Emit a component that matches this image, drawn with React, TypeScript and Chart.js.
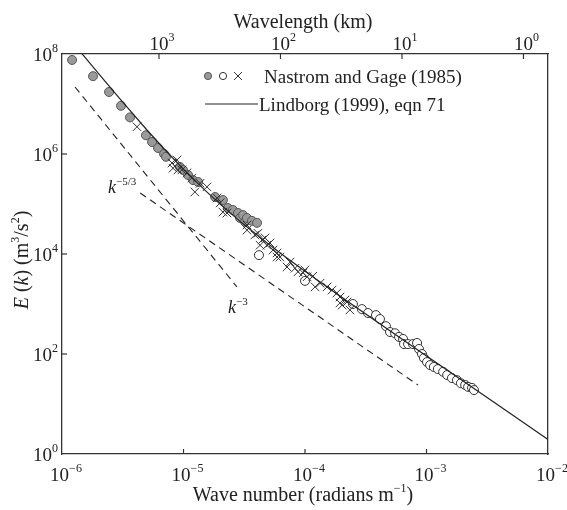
import { useEffect, useRef } from "react";
import { Chart, registerables } from "chart.js";

Chart.register(...registerables);

// ---------------- data ----------------
const lindborgK = [1.4e-6, 1.5e-6, 2e-6, 3e-6, 5e-6, 7e-6, 1e-5, 1.5e-5, 2e-5, 3e-5, 5e-5, 7e-5, 1e-4, 2e-4, 5e-4, 1e-3, 2e-3, 5e-3, 1e-2];
const lindborgE = [1.15e8, 9.35e7, 4.04e7, 1.26e7, 3.02e6, 1.23e6, 4.96e5, 1.89e5, 9.93e4, 4.25e4, 1.58e4, 8.53e3, 4.52e3, 1.37e3, 292, 91.3, 28.7, 6.22, 1.96];

const filledK = [1.21e-6, 1.8e-6, 2.44e-6, 3.06e-6, 3.63e-6, 4.91e-6, 5.51e-6, 6.17e-6, 6.92e-6, 7.18e-6, 9.35e-6, 9.9e-6, 1.09e-5, 1.2e-5, 1.32e-5, 1.82e-5, 2.11e-5, 2.32e-5, 2.55e-5, 2.81e-5, 2.92e-5, 3.09e-5, 3.21e-5, 3.33e-5, 3.66e-5, 4.03e-5];
const filledE = [7.6e7, 3.6e7, 1.74e7, 9.2e6, 5.4e6, 2.37e6, 1.74e6, 1.32e6, 1.0e6, 8.8e5, 5.5e5, 4.8e5, 3.8e5, 3.0e5, 2.75e5, 1.38e5, 1.2e5, 8.3e4, 7.6e4, 6.6e4, 5.25e4, 6.0e4, 4.4e4, 5.25e4, 4.6e4, 4.2e4];

const openK = [4.18e-5, 1.0e-4, 2.48e-4, 2.94e-4, 3.3e-4, 3.84e-4, 4.14e-4, 4.64e-4, 5.01e-4, 5.51e-4, 5.94e-4, 6.41e-4, 6.53e-4, 7.05e-4, 7.74e-4, 8.36e-4, 8.67e-4, 9.18e-4, 9.53e-4, 1.01e-3, 1.07e-3, 1.15e-3, 1.24e-3, 1.37e-3, 1.48e-3, 1.62e-3, 1.78e-3, 1.92e-3, 2.08e-3, 2.2e-3, 2.37e-3, 2.46e-3];
const openE = [9.5e3, 2.9e3, 1.0e3, 790, 660, 600, 500, 360, 275, 260, 220, 200, 158, 158, 158, 166, 126, 100, 83, 69, 60, 55, 50, 44, 38, 33, 30, 26, 24, 22, 21, 19];

const crossK = [4.14e-6, 8.04e-6, 8.2e-6, 8.85e-6, 9.0e-6, 9.7e-6, 1.07e-5, 1.17e-5, 1.24e-5, 1.37e-5, 1.56e-5, 1.89e-5, 2.0e-5, 2.11e-5, 2.28e-5, 3.33e-5, 3.33e-5, 3.87e-5, 4.1e-5, 4.27e-5, 4.43e-5, 4.69e-5, 4.86e-5, 5.15e-5, 5.46e-5, 5.89e-5, 5.89e-5, 6.22e-5, 7.11e-5, 7.54e-5, 8.28e-5, 8.75e-5, 9.64e-5, 1.0e-4, 1.04e-4, 1.16e-4, 1.21e-4, 1.33e-4, 1.52e-4, 1.67e-4, 1.83e-4, 1.94e-4, 1.94e-4, 2.02e-4, 2.13e-4, 2.22e-4, 2.34e-4];
const crossE = [3.5e6, 6.6e5, 5.2e5, 7.6e5, 4.8e5, 4.8e5, 4.2e5, 3.3e5, 1.74e5, 2.6e5, 2.2e5, 1.32e5, 1.05e5, 6.9e4, 6.6e4, 3.8e4, 3.0e4, 2.4e4, 2.6e4, 1.5e4, 1.9e4, 2.1e4, 1.5e4, 1.66e4, 1.2e4, 1.05e4, 8.7e3, 8.7e3, 5.5e3, 6.9e3, 5.2e3, 4.4e3, 4.2e3, 4.8e3, 3.5e3, 3.6e3, 2.2e3, 2.6e3, 2.2e3, 1.9e3, 1.66e3, 1.05e3, 1.38e3, 950, 1.2e3, 1.1e3, 760];

const slope53K = [4.4e-6, 8.5e-4];
const slope53E = [1.66e5, 24];
const slope3K = [1.28e-6, 2.75e-5];
const slope3E = [2.19e7, 2.2e3];

const waveNumberTicks = [1e-6, 1e-5, 1e-4, 1e-3, 1e-2];
const waveNumberExps = ["\u22126", "\u22125", "\u22124", "\u22123", "\u22122"];
const energyTicks = [1, 1e2, 1e4, 1e6, 1e8];
const energyExps = ["0", "2", "4", "6", "8"];
const wavelengthKmTicks = [1000, 100, 10, 1];
const wavelengthExps = ["3", "2", "1", "0"];

const legendLabels = ["Nastrom and Gage (1985)", "Lindborg (1999), eqn 71"];

// ---------------- styling ----------------
const FONT = '"Liberation Serif", "Times New Roman", serif';
const INK = "#222222";
const AXIS = "#333333";
const GRAY_FILL = "#9a9a9a";
const GRAY_EDGE = "#555555";

type Seg = { t: string; it?: boolean; sup?: boolean };

function fontFor(s: Seg, size: number) {
  const sz = s.sup ? Math.round(size * 0.62) : size;
  return `${s.it ? "italic " : ""}${sz}px ${FONT}`;
}

function drawRich(ctx: CanvasRenderingContext2D, segs: Seg[], x: number, y: number, size: number, align: "left" | "center" | "right" = "left") {
  const widths = segs.map((s) => {
    ctx.font = fontFor(s, size);
    return ctx.measureText(s.t).width;
  });
  const total = widths.reduce((a, b) => a + b, 0);
  let cx = align === "center" ? x - total / 2 : align === "right" ? x - total : x;
  ctx.textAlign = "left";
  ctx.textBaseline = "alphabetic";
  segs.forEach((s, i) => {
    ctx.font = fontFor(s, size);
    ctx.fillText(s.t, cx, s.sup ? y - size * 0.45 : y);
    cx += widths[i];
  });
}

const pts = (xs: number[], ys: number[]) => xs.map((x, i) => ({ x, y: ys[i] }));

const decorPlugin = {
  id: "decor",
  afterDraw(chart: any) {
    const ctx: CanvasRenderingContext2D = chart.ctx;
    const xs = chart.scales.x;
    const ys = chart.scales.y;
    const { left, right, top, bottom } = chart.chartArea;
    ctx.save();
    ctx.strokeStyle = AXIS;
    ctx.fillStyle = INK;
    ctx.lineWidth = 1.2;
    const TL = 5;

    // bottom ticks + labels
    waveNumberTicks.forEach((v, i) => {
      const px = xs.getPixelForValue(v);
      if (i > 0 && i < waveNumberTicks.length - 1) {
        ctx.beginPath();
        ctx.moveTo(px, bottom);
        ctx.lineTo(px, bottom - TL);
        ctx.stroke();
      }
      drawRich(ctx, [{ t: "10" }, { t: waveNumberExps[i], sup: true }], px + 4, bottom + 27, 19, "center");
    });

    // left ticks + labels
    energyTicks.forEach((v, i) => {
      const py = ys.getPixelForValue(v);
      if (i > 0 && i < energyTicks.length - 1) {
        ctx.beginPath();
        ctx.moveTo(left, py);
        ctx.lineTo(left + TL, py);
        ctx.stroke();
      }
      drawRich(ctx, [{ t: "10" }, { t: energyExps[i], sup: true }], left - 4, py + 7, 19, "right");
    });

    // top (wavelength) ticks + labels
    wavelengthKmTicks.forEach((lam, i) => {
      const px = xs.getPixelForValue((2 * Math.PI) / (lam * 1000));
      ctx.beginPath();
      ctx.moveTo(px, top);
      ctx.lineTo(px, top + TL);
      ctx.stroke();
      drawRich(ctx, [{ t: "10" }, { t: wavelengthExps[i], sup: true }], px + 3, top - 4, 19, "center");
    });

    // axis titles
    const midX = (left + right) / 2;
    drawRich(ctx, [{ t: "Wavelength (km)" }], midX - 2, 28, 20, "center");
    drawRich(ctx, [{ t: "Wave number (radians m" }, { t: "\u22121", sup: true }, { t: ")" }], midX - 2, 501, 20, "center");

    ctx.save();
    ctx.translate(28, (top + bottom) / 2 + 6);
    ctx.rotate(-Math.PI / 2);
    drawRich(ctx, [{ t: "E", it: true }, { t: " (" }, { t: "k", it: true }, { t: ") (m" }, { t: "3", sup: true }, { t: "/s" }, { t: "2", sup: true }, { t: ")" }], 0, 0, 20, "center");
    ctx.restore();

    // slope labels
    drawRich(ctx, [{ t: "k", it: true }, { t: "\u22125/3", sup: true }], 108, 193, 18, "left");
    drawRich(ctx, [{ t: "k", it: true }, { t: "\u22123", sup: true }], 228, 313, 18, "left");

    // legend
    const ly1 = 76;
    ctx.lineWidth = 1;
    ctx.beginPath();
    ctx.arc(208, ly1, 3.6, 0, Math.PI * 2);
    ctx.fillStyle = GRAY_FILL;
    ctx.fill();
    ctx.strokeStyle = GRAY_EDGE;
    ctx.stroke();
    ctx.beginPath();
    ctx.arc(223, ly1, 3.6, 0, Math.PI * 2);
    ctx.fillStyle = "#ffffff";
    ctx.fill();
    ctx.strokeStyle = AXIS;
    ctx.stroke();
    ctx.beginPath();
    ctx.moveTo(234, ly1 - 4);
    ctx.lineTo(242, ly1 + 4);
    ctx.moveTo(242, ly1 - 4);
    ctx.lineTo(234, ly1 + 4);
    ctx.stroke();
    ctx.fillStyle = INK;
    drawRich(ctx, [{ t: legendLabels[0] }], 264, ly1 + 7, 19, "left");

    const ly2 = 104;
    ctx.strokeStyle = INK;
    ctx.lineWidth = 1.2;
    ctx.beginPath();
    ctx.moveTo(205, ly2);
    ctx.lineTo(258, ly2);
    ctx.stroke();
    drawRich(ctx, [{ t: legendLabels[1] }], 259, ly2 + 7, 19, "left");

    ctx.restore();
  },
};

const axisCommon = {
  type: "logarithmic" as const,
  ticks: { display: false },
  grid: { display: false, drawTicks: false },
  border: { display: true, color: AXIS, width: 1.3 },
};

export default function App() {
  const ref = useRef<HTMLCanvasElement | null>(null);

  useEffect(() => {
    if (!ref.current) return;
    const chart = new Chart(ref.current, {
      type: "scatter",
      data: {
        datasets: [
          {
            label: "k^-5/3",
            data: pts(slope53K, slope53E),
            showLine: true,
            borderColor: INK,
            borderWidth: 1.1,
            borderDash: [7, 5],
            pointRadius: 0,
          },
          {
            label: "k^-3",
            data: pts(slope3K, slope3E),
            showLine: true,
            borderColor: INK,
            borderWidth: 1.1,
            borderDash: [7, 5],
            pointRadius: 0,
          },
          {
            label: "Lindborg (1999), eqn 71",
            data: pts(lindborgK, lindborgE),
            showLine: true,
            borderColor: INK,
            borderWidth: 1.2,
            pointRadius: 0,
          },
          {
            label: "Nastrom and Gage (1985) x",
            data: pts(crossK, crossE),
            pointStyle: "crossRot",
            pointRadius: 6,
            borderColor: "#333333",
            borderWidth: 1,
          },
          {
            label: "Nastrom and Gage (1985) open",
            data: pts(openK, openE),
            pointStyle: "circle",
            pointRadius: 4.5,
            backgroundColor: "#ffffff",
            borderColor: "#333333",
            borderWidth: 1,
          },
          {
            label: "Nastrom and Gage (1985) filled",
            data: pts(filledK, filledE),
            pointStyle: "circle",
            pointRadius: 4.5,
            backgroundColor: GRAY_FILL,
            borderColor: GRAY_EDGE,
            borderWidth: 1,
          },
        ],
      },
      options: {
        animation: false,
        responsive: false,
        layout: { padding: { left: 62, top: 54, right: 19, bottom: 56 } },
        plugins: { legend: { display: false }, tooltip: { enabled: false } },
        scales: {
          x: { ...axisCommon, position: "bottom", min: 1e-6, max: 1e-2 },
          x2: { ...axisCommon, position: "top", min: 1e-6, max: 1e-2 },
          y: { ...axisCommon, position: "left", min: 1, max: 1e8 },
          y2: { ...axisCommon, position: "right", min: 1, max: 1e8 },
        },
      },
      plugins: [decorPlugin],
    } as any);
    return () => chart.destroy();
  }, []);

  return (
    <div style={{ position: "fixed", left: 0, top: 0, width: 567, height: 510, background: "#ffffff" }}>
      <canvas ref={ref} width={567} height={510} style={{ width: 567, height: 510 }} />
    </div>
  );
}
